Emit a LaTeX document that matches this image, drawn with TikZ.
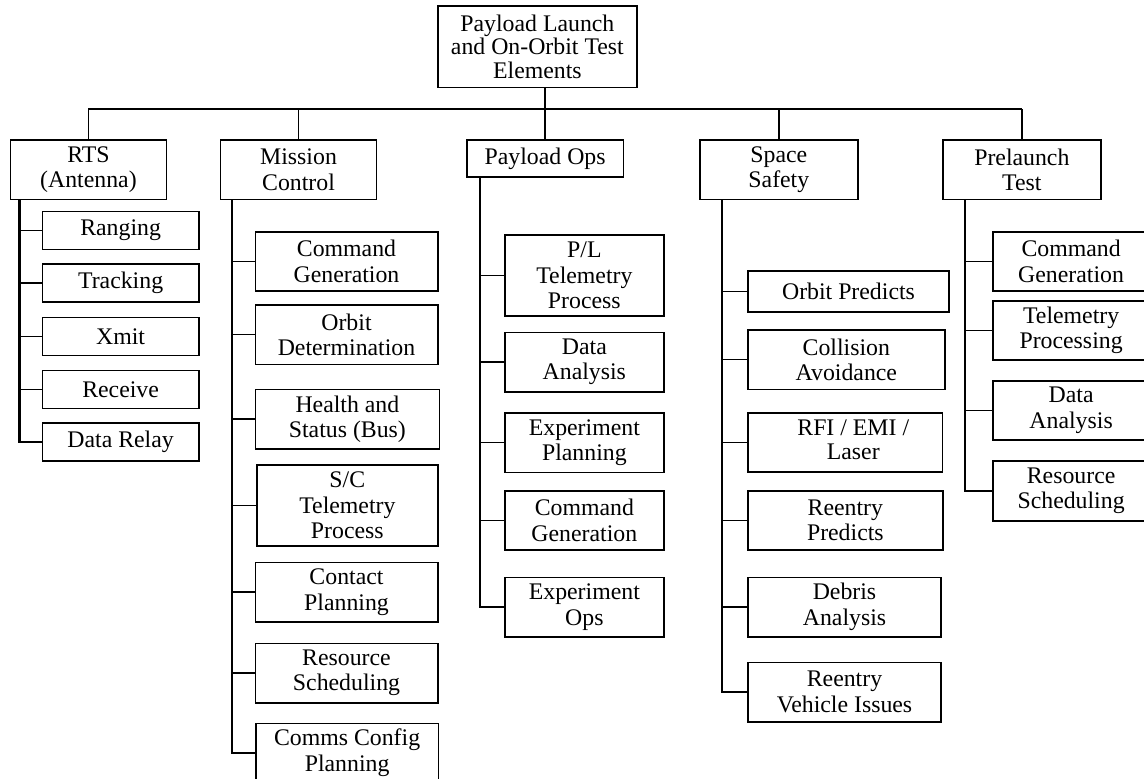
\documentclass[tikz,border=0pt]{standalone}
\usepackage{fontspec}
\setmainfont{Liberation Serif}
\begin{document}
\begin{tikzpicture}[x=1pt,y=-1pt,
  box/.style={draw, line width=1.6pt, inner sep=0pt, align=center,
    font=\fontsize{23.8}{25.5}\selectfont},
  sz/.style 2 args={minimum width=#1pt, minimum height=#2pt},
  trunk/.style={line width=2.4pt, line cap=rect},
  branch/.style={line width=1.4pt},
  link/.style={line width=1.5pt}]
\useasboundingbox (0,0) rectangle (1144,779);
\clip (0,0) rectangle (1144,779);

% root
\node[box, sz={199.4}{81.3}, font=\fontsize{23.8}{23.5}\selectfont] (top) at (537.4,46.7)
  {Payload Launch\\and On-Orbit Test\\Elements};

% first level
\node[box, sz={156.1}{59.3}] (rts) at (88.45,169.65) {RTS\\(Antenna)};
\node[box, sz={156.1}{59.3}] (mc)  at (298.55,169.65) {Mission\\Control};
\node[box, sz={156.4}{36.7}] (po)  at (545.1,158.35) {Payload Ops};
\node[box, sz={158.3}{59.3}] (ss)  at (778.85,169.65) {Space\\Safety};
\node[box, sz={157.9}{59.3}] (pt)  at (1021.85,169.65) {Prelaunch\\Test};

% RTS
\node[box, sz={156.2}{38}] (ranging)   at (120.6,230.5) {Ranging};
\node[box, sz={156.2}{38}] (tracking)  at (120.6,283.15) {Tracking};
\node[box, sz={156.2}{38}] (xmit)      at (120.6,336.5) {Xmit};
\node[box, sz={156.2}{38}] (receive)   at (120.6,389.3) {Receive};
\node[box, sz={156.2}{38}] (datarelay) at (120.6,441.85) {Data Relay};

% Mission Control
\node[box, sz={182.4}{59}]   (mccmd)  at (346.5,261.2) {Command\\Generation};
\node[box, sz={182.4}{59.3}] (mcorb)  at (346.5,334.65) {Orbit\\Determination};
\node[box, sz={184.2}{59.7}] (mchs)   at (347.4,419.15) {Health and\\Status (Bus)};
\node[box, sz={180.7}{80.7}] (mctlm)  at (347.35,505.35) {S/C\\Telemetry\\Process};
\node[box, sz={182.4}{59.7}] (mccon)  at (346.5,592.15) {Contact\\Planning};
\node[box, sz={182.4}{59.4}] (mcres)  at (346.5,673) {Resource\\Scheduling};
\node[box, sz={182.4}{59}]   (mccfg)  at (347.1,752.8) {Comms Config\\Planning};

% Payload Ops
\node[box, sz={158.7}{80.7}] (potlm) at (584.35,275.35) {P/L\\Telemetry\\Process};
\node[box, sz={158.7}{59.4}] (poda)  at (584.35,362) {Data\\Analysis};
\node[box, sz={158.7}{59.6}] (poexp) at (584.35,442.5) {Experiment\\Planning};
\node[box, sz={158.7}{59}]   (pocmd) at (584.35,520.5) {Command\\Generation};
\node[box, sz={158.7}{59.4}] (poops) at (584.35,607) {Experiment\\Ops};

% Space Safety
\node[box, sz={201}{40.7}]   (ssorb) at (848.5,291.35) {Orbit Predicts};
\node[box, sz={196.7}{59.3}] (sscol) at (846.35,359.65) {Collision\\Avoidance};
\node[box, sz={194.5}{59}]   (ssrfi) at (845.25,442.2)
  {\kern16pt\begin{tabular}{@{}c@{}}RFI / EMI /\\[-2pt]Laser\end{tabular}};
\node[box, sz={194.7}{59}]   (ssre)  at (845.35,520.5) {Reentry\\Predicts};
\node[box, sz={193}{59.4}]   (ssdeb) at (844.5,607) {Debris\\Analysis};
\node[box, sz={193}{59.4}]   (ssrv)  at (844.5,692) {Reentry\\Vehicle Issues};

% Prelaunch Test
\node[box, sz={156}{58.7}] (ptcmd) at (1071.1,261.35) {Command\\Generation};
\node[box, sz={156}{59.3}] (pttlm) at (1071.1,330.35) {Telemetry\\Processing};
\node[box, sz={156}{59.3}] (ptda)  at (1071.1,410.35) {Data\\Analysis};
\node[box, sz={156}{59.7}] (ptres) at (1071.1,490.85) {Resource\\Scheduling};

% distribution bar from the root to the five groups
\coordinate (bar) at (0,109);
\draw[trunk, line cap=butt] (po.north |- top.south) -- (po.north |- bar);
\draw[link] (rts.north |- bar) -- (pt.north |- bar);
\foreach \n in {rts,mc,po,ss,pt}
  \draw[link] (\n.north) -- (\n.north |- bar);

% group trunks
\coordinate (rtsT) at ([xshift=9.9pt]rts.south west);
\coordinate (mcT)  at ([xshift=12.5pt]mc.south west);
\coordinate (poT)  at ([xshift=14.1pt]po.south west);
\coordinate (ssT)  at ([xshift=22.8pt]ss.south west);
\coordinate (ptT)  at ([xshift=22.6pt]pt.south west);

\draw[trunk] (rtsT) -- (rtsT |- datarelay.west);
\foreach \n in {ranging,tracking,xmit,receive,datarelay}
  \draw[branch] (\n.west) -- (\n.west -| rtsT);

\draw[trunk] (mcT) -- (mcT |- mccfg.west);
\foreach \n in {mccmd,mcorb,mchs,mctlm,mccon,mcres,mccfg}
  \draw[branch] (\n.west) -- (\n.west -| mcT);

\draw[trunk] (poT) -- (poT |- poops.west);
\foreach \n in {potlm,poda,poexp,pocmd,poops}
  \draw[branch] (\n.west) -- (\n.west -| poT);

\draw[trunk] (ssT) -- (ssT |- ssrv.west);
\foreach \n in {ssorb,sscol,ssrfi,ssre,ssdeb,ssrv}
  \draw[branch] (\n.west) -- (\n.west -| ssT);

\draw[trunk] (ptT) -- (ptT |- ptres.west);
\foreach \n in {ptcmd,pttlm,ptda,ptres}
  \draw[branch] (\n.west) -- (\n.west -| ptT);
\end{tikzpicture}
\end{document}
